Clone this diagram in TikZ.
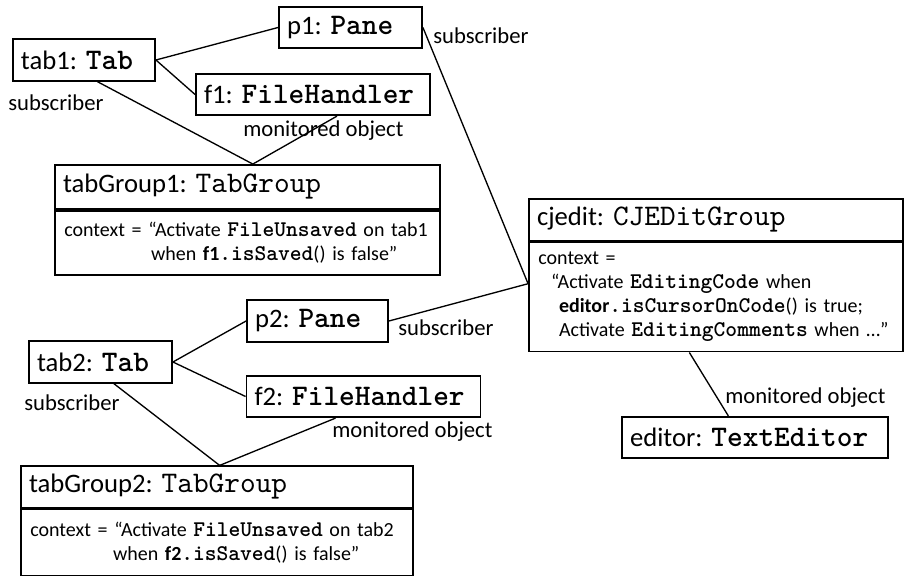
\documentclass[tikz,border=0pt]{standalone}
\usepackage{fontspec}
\setmainfont{Carlito}
\setmonofont{lmmono10-regular.otf}[BoldFont=lmmonolt10-bold.otf, Scale=1.12]
\usetikzlibrary{positioning}

\newcommand{\cls}[1]{\texttt{\textbf{#1}}}
\newcommand{\clsplain}[1]{\texttt{#1}}

\tikzset{
  objbox/.style={draw, line width=1.4pt, inner xsep=6pt, inner ysep=0pt,
    minimum height=31pt, align=left, font=\fontsize{20}{24}\selectfont},
  ctxbox/.style={draw, line width=1.4pt, inner xsep=7pt, inner ysep=0pt,
    align=left, font=\fontsize{15}{18}\selectfont},
  role/.style={inner sep=0pt, anchor=base west, font=\fontsize{17}{20}\selectfont},
  link/.style={line width=1pt}
}

\begin{document}
\begin{tikzpicture}[x=0.75pt, y=-0.75pt]
  \useasboundingbox (0,0) rectangle (905,575);

  % First tab and its parts
  \node[objbox, text width=94.5pt] (tab1) at (84,60) {tab1:~\cls{Tab}};
  \node[objbox, text width=95.25pt] (p1) at (350.5,27.5) {p1:~\cls{Pane}};
  \node[objbox, text width=163.5pt] (f1) at (313,94.5) {f1:~\cls{FileHandler}};

  % First tab group
  \node[objbox, text width=276.75pt, minimum height=33pt] (tg1) at (247.5,187)
    {tabGroup1:~\clsplain{TabGroup}};
  \node[ctxbox, text width=274.75pt, minimum height=48pt, below=0pt of tg1] (tg1ctx)
    {context = “Activate \cls{FileUnsaved} on tab1\\
     \hspace*{65pt}when \textbf{f1}\cls{.isSaved}() is false”};

  % Edit group
  \node[objbox, text width=268.5pt] (cj) at (716,220) {cjedit:~\clsplain{CJEDitGroup}};
  \node[ctxbox, text width=266.5pt, minimum height=81.75pt, below=0pt of cj] (cjctx)
    {context =\\
     \hspace*{9.5pt}“Activate \cls{EditingCode} when\\
     \hspace*{15.5pt}\textbf{editor}\cls{.isCursorOnCode}() is true;\\
     \hspace*{15.5pt}Activate \cls{EditingComments} when …”};
  \node[objbox, text width=187.5pt] (editor) at (755,437.5) {editor:~\cls{TextEditor}};

  % Second tab and its parts
  \node[objbox, text width=95.25pt] (tab2) at (100.5,362) {tab2:~\cls{Tab}};
  \node[objbox, text width=93.75pt] (p2) at (317.5,321) {p2:~\cls{Pane}};
  \node[objbox, text width=163.5pt] (f2) at (363.5,396.5) {f2:~\cls{FileHandler}};

  % Second tab group
  \node[objbox, text width=282pt] (tg2) at (217,487) {tabGroup2:~\clsplain{TabGroup}};
  \node[ctxbox, text width=280pt, minimum height=49.5pt, below=0pt of tg2] (tg2ctx)
    {context = “Activate \cls{FileUnsaved} on tab2\\
     \hspace*{62pt}when \textbf{f2}\cls{.isSaved}() is false”};

  % Links
  \draw[link] (tab1.east) -- (p1.west);
  \draw[link] (tab1.east) -- (f1.west);
  \draw[link] ([xshift=10pt]tab1.south) -- ([xshift=4pt]tg1.north);
  \draw[link] ([xshift=18pt]f1.south) -- ([xshift=4pt]tg1.north);

  \coordinate (cjin) at ([yshift=10pt]cjctx.west);
  \draw[link] (p1.east) -- (cjin);
  \draw[link] (p2.east) -- (cjin);
  \draw[link] ([xshift=-20pt]cjctx.south) -- ([xshift=-20pt]editor.north);

  \draw[link] (tab2.east) -- (p2.west);
  \draw[link] (tab2.east) -- (f2.west);
  \draw[link] ([xshift=10pt]tab2.south) -- ([xshift=2pt]tg2.north);
  \draw[link] ([xshift=-21pt]f2.south) -- ([xshift=2pt]tg2.north);

  % Role labels
  \node[role] (r1) at (8,110) {subscriber};
  \node[role] (r2) at (243,136) {monitored object};
  \node[role] (r3) at (433,43) {subscriber};
  \node[role] (r4) at (398,335) {subscriber};
  \node[role] (r5) at (24,410) {subscriber};
  \node[role] (r6) at (332,437) {monitored object};
  \node[role] (r7) at (725,403) {monitored object};
\end{tikzpicture}
\end{document}
